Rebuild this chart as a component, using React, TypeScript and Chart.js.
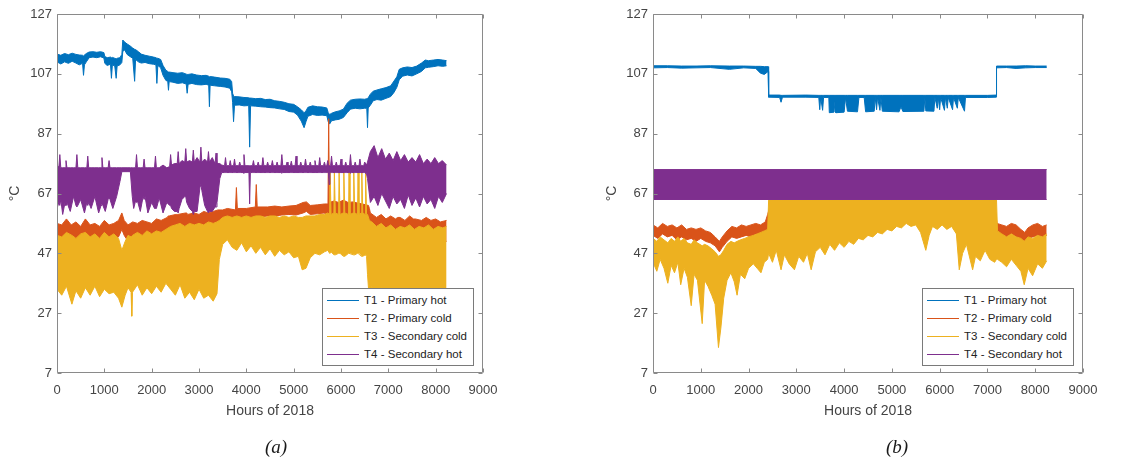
import React, { useEffect, useRef } from "react";
import { Chart, registerables } from "chart.js";

Chart.register(...registerables);

// ---------- axes ----------
const X_MIN = 0;
const X_MAX = 9000;
const X_STEP = 1000;
const Y_MIN = 7;
const Y_MAX = 127;
const Y_STEP = 20;
const X_TITLE = "Hours of 2018";
const Y_TITLE = "°C";
const CAPTIONS = ["(a)", "(b)"];

const SERIES_LABELS = ["T1 - Primary hot", "T2 - Primary cold", "T3 - Secondary cold", "T4 - Secondary hot"];
const SERIES_COLORS = ["#0072BD", "#D95319", "#EDB120", "#7E2F8E"];

// ---------- panel (a): rows are [hour, low envelope, high envelope] in °C ----------
const A_T1 = [
  [0, 111, 113.6], [80, 110.3, 113.2], [160, 111, 113.8], [240, 110.5, 113.4], [320, 111.2, 113.9],
  [400, 110.6, 113.5], [470, 110, 113.3], [540, 110.5, 113.2], [560, 106.5, 113], [580, 110, 113.3],
  [620, 111, 113.8], [680, 112.4, 114.3], [760, 112.6, 114.4], [840, 112.4, 114.2], [920, 112.7, 114.4],
  [990, 112.3, 114.1], [1010, 110.5, 112.8], [1060, 109.8, 112.4], [1130, 110.2, 112.6], [1150, 105.5, 112.4],
  [1170, 110, 112.5], [1220, 109.6, 112.2], [1250, 105.5, 112], [1270, 109.6, 112.2], [1330, 110, 112.4],
  [1370, 110.8, 113.5], [1390, 114.5, 118.3], [1430, 115, 117.6], [1480, 113.5, 117], [1540, 112.8, 116.4],
  [1600, 112.2, 115.6], [1640, 104.5, 115.2], [1660, 111.8, 115.1], [1720, 111, 114.4], [1780, 110.6, 113.6],
  [1860, 110.8, 113.2], [1950, 110.4, 112.9], [2040, 110.2, 112.6], [2090, 110, 112.4], [2110, 103.8, 112.2],
  [2130, 109.8, 112.2], [2190, 109, 111.8], [2240, 106.5, 109.8], [2300, 104.8, 108.2], [2340, 104.5, 107.8],
  [2355, 101.5, 107.6], [2370, 104.4, 107.6], [2450, 104.2, 107.4], [2550, 103.8, 107.2], [2650, 104, 107.4],
  [2730, 103.6, 106.9], [2750, 100.5, 106.8], [2770, 103.5, 106.8], [2850, 103.8, 107], [2950, 103.4, 106.6],
  [3050, 103.3, 106.4], [3150, 103.5, 106.5], [3205, 103.2, 106.2], [3220, 96, 106], [3235, 103.2, 106.1],
  [3330, 103, 105.9], [3450, 102.8, 105.6], [3550, 102.6, 105.5], [3650, 102.2, 105.2], [3690, 101, 104.4],
  [3710, 97.5, 100.5], [3730, 91, 99.6], [3750, 96.5, 99.4], [3850, 96.6, 99.3], [3950, 96.3, 99.1],
  [4050, 96.4, 99], [4070, 82.5, 98.9], [4090, 96.3, 98.9], [4200, 96.2, 98.7], [4300, 96, 98.8],
  [4400, 95.9, 98.4], [4500, 95.7, 98.5], [4600, 95.6, 98], [4700, 95.3, 97.8], [4800, 95.1, 97.5],
  [4900, 94.4, 97], [5000, 94.2, 96.8], [5080, 93.2, 96], [5160, 91.2, 95], [5220, 89, 94],
  [5260, 91, 94.6], [5300, 92.8, 95.8], [5400, 93.4, 96.3], [5500, 93.1, 96], [5600, 93.2, 95.9],
  [5700, 93, 95.6], [5730, 91, 94], [5760, 90.2, 93.4], [5800, 91.3, 93.8], [5880, 91.6, 94.3],
  [5960, 91.8, 94.6], [6050, 92.4, 95.2], [6130, 94, 97.2], [6200, 95.2, 98.2], [6300, 95.5, 98.5],
  [6400, 95.3, 98.6], [6500, 95.5, 98.5], [6545, 95.5, 98.7], [6560, 89, 98.8], [6575, 95.6, 99],
  [6620, 96.5, 100.2], [6680, 98, 101.2], [6760, 98.4, 101.6], [6850, 98.2, 102], [6950, 98.8, 102.4],
  [7050, 99.4, 103], [7120, 100.8, 104.6], [7180, 102.5, 106], [7230, 105, 108.5], [7300, 106.2, 109],
  [7400, 106.6, 109.3], [7500, 106.3, 109.1], [7600, 107, 109.6], [7700, 107.8, 110.6], [7780, 109, 111.6],
  [7850, 109.2, 111.4], [7950, 109.4, 111.6], [8050, 109.7, 111.8], [8150, 109.5, 111.6], [8230, 109.7, 111.4],
];

const A_T2 = [
  [0, 51, 57], [100, 50, 56.5], [200, 51.5, 58.5], [300, 49.5, 56.5], [400, 51, 57.5], [500, 50.5, 56],
  [600, 52, 58.5], [700, 50, 56.5], [800, 51.5, 57], [900, 50, 56], [1000, 51.5, 58], [1100, 50.5, 56.5],
  [1200, 51, 57], [1300, 52.5, 58], [1370, 55, 60.5], [1420, 53, 58], [1500, 51, 56.5], [1600, 52, 57.5],
  [1700, 51, 57], [1800, 52.5, 58], [1900, 51.5, 57.5], [2000, 52, 57], [2100, 52.5, 58.5], [2200, 53, 58],
  [2330, 52.5, 59], [2350, 46.5, 59.5], [2370, 53, 59.5], [2510, 53.5, 60], [2530, 48, 60], [2550, 54, 60],
  [2720, 54.5, 60.5], [2740, 48, 60.5], [2760, 54.5, 60], [2900, 55, 60.5], [3000, 54, 60], [3100, 55.5, 61],
  [3200, 55, 60.5], [3300, 55, 61], [3400, 56.5, 61.5], [3500, 58, 61.5], [3600, 58.5, 62], [3770, 58.5, 61.5],
  [3790, 58.5, 69], [3810, 58.5, 62], [4000, 59, 62], [4190, 59, 62.5], [4210, 59.5, 70], [4230, 59, 62.5],
  [4450, 59.5, 62.5], [4600, 59.5, 62.8], [4750, 59.8, 62.5], [4900, 60, 62.8], [5050, 59.8, 63], [5200, 60.5, 64],
  [5270, 61, 64.2], [5350, 60, 63], [5500, 60.2, 63.2], [5650, 60.5, 63.5], [5725, 59, 63.5], [5740, 58, 92],
  [5755, 59, 64], [5850, 59.5, 64.5], [5950, 59, 64], [6050, 58.5, 64.8], [6150, 59, 64], [6250, 58.5, 64.2],
  [6350, 59, 63.8], [6450, 58.5, 63.5], [6580, 58, 63], [6600, 47, 62], [6620, 53, 60.5], [6750, 51, 59],
  [6850, 52.5, 60], [6950, 50.5, 58.5], [7050, 52, 59.5], [7150, 50, 58.5], [7200, 47, 59], [7250, 51.5, 59],
  [7350, 50, 58], [7450, 52, 59.5], [7530, 51, 58.5], [7550, 47, 58.5], [7570, 51, 58.5], [7700, 49.5, 58],
  [7800, 51.5, 59], [7900, 50, 58], [8000, 51, 58.5], [8100, 49.5, 57.5], [8230, 51, 58],
];

const A_T3 = [
  [0, 35, 53], [100, 33, 52.5], [200, 36, 54], [315, 30, 53], [400, 34.5, 52], [500, 32, 53.5],
  [600, 35.5, 54], [700, 33, 52.5], [800, 36, 53.5], [900, 32.5, 52], [1000, 35, 54], [1100, 33.5, 52.5],
  [1200, 34, 53.5], [1300, 32, 52], [1370, 29, 48], [1440, 33, 51], [1500, 35.5, 53], [1565, 34, 52.5],
  [1580, 26, 52.5], [1595, 34, 53], [1700, 36.5, 54], [1800, 33, 53], [1900, 35.5, 54.5], [2000, 33.5, 53.5],
  [2100, 36, 54.5], [2200, 34, 54], [2300, 37, 55], [2400, 35, 56], [2500, 33, 56.5], [2600, 36.5, 57],
  [2700, 32, 56], [2800, 34, 57], [2900, 31.5, 56.5], [3000, 35, 57], [3100, 32, 56.5], [3200, 33, 57.5],
  [3300, 31, 57], [3380, 33.5, 57.5], [3430, 45, 58], [3500, 50, 59], [3600, 51.5, 59.5], [3700, 49, 59],
  [3800, 48, 59.5], [3900, 50.5, 59], [4000, 47.5, 59.5], [4100, 49.5, 59], [4200, 47, 59.5], [4300, 49, 59.5],
  [4400, 46.5, 59], [4500, 48.5, 59.5], [4600, 46, 59.5], [4700, 48, 59], [4800, 46.5, 59.5], [4900, 47.5, 59],
  [5000, 45.5, 59.5], [5100, 46, 59], [5180, 41.5, 59], [5260, 42, 59.5], [5350, 45.5, 59.5], [5450, 47, 59.5],
  [5550, 46.5, 60], [5650, 47.5, 60], [5720, 48, 60.5], [5760, 47, 60], [5770, 47, 74.5], [5790, 47.5, 60],
  [5850, 46.5, 60.5], [5860, 46.5, 74.5], [5880, 46.5, 60.5], [5950, 47, 60], [5960, 47, 74.5], [5980, 47, 60],
  [6050, 46, 60.5], [6060, 46, 74.5], [6080, 46, 60.5], [6160, 47, 60], [6170, 47, 74.5], [6190, 47, 60],
  [6260, 46.5, 60.5], [6270, 46.5, 74.5], [6290, 46.5, 60.5], [6350, 47, 60], [6360, 47, 74.5], [6380, 47, 60],
  [6430, 46, 60.5], [6440, 46, 74.5], [6460, 46, 60.5], [6510, 46.5, 60], [6520, 46.5, 74.5], [6540, 46, 60],
  [6560, 40, 60], [6600, 31, 58], [6650, 36, 57.5], [6750, 33, 56], [6850, 35.5, 57], [6950, 32, 55.5],
  [7050, 34, 56.5], [7150, 31.5, 55], [7250, 34.5, 56], [7350, 32, 55.5], [7450, 35, 56.5], [7550, 31.5, 55],
  [7650, 34, 56], [7750, 32.5, 55.5], [7850, 35, 56.5], [7950, 32, 55], [8050, 34, 56], [8150, 33, 55.5],
  [8230, 35, 56],
];

const A_T4 = [
  [0, 62, 76], [40, 64, 76], [60, 63, 80], [80, 65, 75.6], [120, 60, 75.6], [170, 64, 75.6], [190, 63, 78],
  [210, 64, 75.6], [280, 61, 75.6], [350, 66, 75.6], [400, 63, 75.6], [420, 62.5, 80], [440, 63, 75.6],
  [500, 65, 75.6], [580, 60.5, 75.6], [630, 64, 75.6], [650, 63, 79.5], [670, 64, 75.6], [720, 62, 75.6],
  [800, 66, 75.6], [880, 60.5, 75.6], [930, 63, 75.6], [950, 63.5, 79], [970, 63, 75.6], [1020, 61, 75.6],
  [1080, 65, 75.6], [1100, 65.5, 78], [1120, 65, 75.6], [1180, 62, 75.6], [1260, 66, 75.6], [1330, 71, 75.6],
  [1370, 74.3, 75.6], [1480, 74.3, 75.6], [1550, 74.3, 75.6], [1590, 66, 75.6], [1620, 62, 75.6], [1660, 64.5, 75.6],
  [1680, 64, 80], [1700, 64.5, 75.6], [1760, 61, 75.6], [1820, 66, 75.6], [1840, 65, 78.5], [1860, 66, 75.6],
  [1920, 60.5, 75.6], [2000, 64, 75.6], [2060, 62, 75.6], [2080, 62, 79.5], [2100, 62, 75.6], [2160, 65.5, 75.6],
  [2240, 60.5, 76.5], [2320, 64, 75.6], [2380, 63, 76], [2400, 63, 80], [2420, 62, 76.5], [2480, 61, 77],
  [2540, 61, 77], [2560, 60.5, 81], [2580, 62, 77], [2640, 65, 78], [2700, 66, 77.5], [2720, 66, 82],
  [2740, 64, 77.5], [2800, 62, 78], [2860, 61, 77.5], [2880, 60, 81.5], [2900, 61, 77.5], [2960, 61, 79],
  [3020, 69, 77.5], [3040, 70, 82.5], [3060, 68, 77.5], [3120, 63, 78.5], [3180, 61, 77.5], [3200, 60.5, 81],
  [3220, 61, 77.5], [3280, 61, 79], [3340, 62.5, 77], [3360, 62.5, 80.5], [3380, 64, 77], [3440, 72, 77],
  [3480, 74, 76.5], [3540, 74, 76.3], [3560, 74, 79], [3580, 74, 76.3], [3640, 74, 76.3], [3660, 74, 78],
  [3680, 74, 76.3], [3730, 74, 76.3], [3750, 74, 78.5], [3770, 74, 76.3], [3840, 74, 76.3], [3860, 74, 77.5],
  [3880, 74, 76.3], [3930, 74, 76.3], [3950, 73.8, 80], [3970, 74, 76.3], [4055, 74, 76.3], [4070, 63.5, 76.3],
  [4085, 74, 76.3], [4130, 74, 76.3], [4150, 74, 78], [4170, 74, 76.3], [4230, 74, 76.3], [4250, 74, 77.5],
  [4270, 74, 76.3], [4330, 74, 76.3], [4350, 74, 79], [4370, 74, 76.3], [4430, 74, 76.3], [4450, 74, 77.5],
  [4470, 74, 76.3], [4530, 74, 76.3], [4550, 74, 78], [4570, 74, 76.3], [4630, 74, 76.3], [4650, 74, 77.5],
  [4670, 74, 76.3], [4730, 74, 76.3], [4750, 73.8, 80], [4770, 74, 76.3], [4840, 74, 76.3], [4860, 74, 77.5],
  [4880, 74, 76.3], [4930, 74, 76.3], [4950, 74, 77.8], [4970, 74, 76.3], [5030, 74, 76.3], [5050, 74, 79.5],
  [5070, 74, 76.3], [5130, 74, 76.3], [5150, 74, 77.5], [5170, 74, 76.3], [5230, 74, 76.3], [5250, 74, 78.5],
  [5270, 74, 76.3], [5330, 74, 76.3], [5350, 74, 77.5], [5370, 74, 76.3], [5430, 74, 76.3], [5450, 74, 78],
  [5470, 74, 76.3], [5530, 74, 76.3], [5550, 74, 79], [5570, 74, 76.3], [5630, 74, 76.3], [5650, 74, 77.5],
  [5670, 74, 76.3], [5700, 74, 76.3], [5720, 74, 78], [5735, 74, 76.3], [5750, 70, 76.3], [5765, 74, 76.3],
  [5780, 74, 76.3], [5800, 74, 79.5], [5820, 74, 76.3], [5880, 74, 76.3], [5900, 74, 77.5], [5920, 74, 76.3],
  [5980, 74, 76.3], [6000, 74, 78.5], [6020, 74, 76.3], [6080, 74, 76.3], [6100, 74, 77.5], [6120, 74, 76.3],
  [6180, 74, 76.3], [6200, 73.8, 80], [6220, 74, 76.3], [6280, 74, 76.3], [6300, 74, 77.5], [6320, 74, 76.3],
  [6380, 74, 76.3], [6400, 74, 78.5], [6420, 74, 76.3], [6480, 74, 76.3], [6500, 74, 77.5], [6540, 73.5, 76.5],
  [6560, 72, 77.5], [6620, 64, 81], [6700, 66, 83], [6780, 63, 79], [6860, 67, 82], [6940, 64.5, 78.5],
  [7020, 62, 80.5], [7100, 66, 78], [7180, 63.5, 81], [7260, 65, 78], [7340, 62, 80], [7420, 66.5, 77.5],
  [7500, 63, 79], [7580, 65.5, 77.5], [7660, 62.5, 80], [7740, 66, 77], [7820, 63.5, 78.5], [7900, 65, 77],
  [7980, 62, 79], [8060, 66, 77], [8140, 64, 78], [8230, 67, 76.5],
];

// ---------- panel (b) ----------
const B_T1 = [
  [0, 109, 109.7], [300, 109.1, 109.7], [600, 108.9, 109.6], [900, 109, 109.6], [1200, 109.1, 109.7],
  [1600, 108.5, 109.6], [1900, 109, 109.6], [2150, 108.8, 109.5], [2250, 107.2, 109.5], [2330, 106.8, 109.4],
  [2410, 107.8, 109.4], [2420, 99.2, 99.9], [2650, 99.1, 99.9], [2680, 97.5, 99.8], [2710, 99.2, 99.8],
  [3200, 99.2, 99.9], [3470, 99.1, 99.8], [3490, 95, 99.8], [3510, 99.1, 99.8], [3550, 94.8, 99.8],
  [3570, 99.1, 99.8], [3680, 99.1, 99.8], [3690, 94, 99.8], [3790, 94.2, 99.8], [3810, 98, 99.8],
  [3830, 94, 99.8], [4000, 94.2, 99.8], [4030, 99, 99.8], [4070, 94.5, 99.8], [4280, 94.3, 99.8],
  [4310, 99.1, 99.8], [4420, 99.1, 99.8], [4450, 94.3, 99.8], [4630, 94.5, 99.8], [4650, 99.1, 99.8],
  [4680, 95, 99.8], [4700, 99.1, 99.8], [4750, 94.8, 99.8], [4770, 99.1, 99.8], [4800, 94.5, 99.8],
  [5150, 94.3, 99.8], [5190, 96, 99.8], [5230, 94.4, 99.8], [5670, 94.5, 99.8], [5690, 99.1, 99.8],
  [5710, 94.6, 99.8], [5880, 94.5, 99.8], [5900, 99.1, 99.8], [5950, 95.5, 99.8], [5970, 99.1, 99.8],
  [6000, 95, 99.8], [6020, 99.1, 99.8], [6100, 94.8, 99.8], [6120, 99.1, 99.8], [6160, 95.5, 99.8],
  [6180, 99.1, 99.8], [6270, 95, 99.8], [6290, 99.1, 99.8], [6370, 95.5, 99.8], [6390, 99.1, 99.8],
  [6520, 94.5, 99.8], [6540, 99.1, 99.8], [7000, 99.1, 99.8], [7180, 99.2, 99.9], [7190, 109, 109.6],
  [7400, 109.1, 109.6], [7600, 108.8, 109.6], [7800, 109, 109.7], [8000, 109.1, 109.6], [8240, 109.1, 109.6],
];

const B_T2 = [
  [0, 53, 56.5], [100, 52, 55.5], [200, 53.5, 57], [300, 52.5, 56], [400, 53, 56.5], [500, 51.5, 55.5],
  [600, 52.5, 56.5], [700, 51.5, 55], [800, 52, 55.5], [900, 51, 55], [1000, 52, 55.5], [1100, 51, 54.5],
  [1200, 50.5, 54], [1300, 49.5, 52.5], [1390, 47.5, 51], [1450, 49, 52.5], [1550, 51, 54.5], [1650, 52.5, 56],
  [1750, 52, 55.5], [1850, 52.5, 56.5], [1950, 53, 56], [2050, 52.5, 56.5], [2150, 53.5, 57], [2250, 53, 56.5],
  [2350, 54, 57.5], [2400, 55, 60], [2450, 59, 63], [7150, 59, 63], [7200, 53.5, 57], [7300, 53, 56.5],
  [7400, 52.5, 56], [7500, 53.5, 57], [7600, 52.5, 56.5], [7700, 51.5, 55], [7780, 51, 54], [7850, 52, 55.5],
  [7950, 52.5, 56.5], [8050, 53, 57], [8150, 52.5, 56], [8240, 53, 56.5],
];

const B_T3 = [
  [0, 44, 52], [80, 41, 51], [150, 45, 52.5], [230, 42, 51.5], [310, 37, 50.5], [380, 43, 52],
  [450, 40.5, 51], [520, 44, 52.5], [580, 36.5, 51], [650, 42, 52], [720, 39, 50.5], [800, 29.5, 50],
  [860, 40, 51.5], [930, 38, 50.5], [1030, 23.5, 49.5], [1080, 38, 50], [1150, 36, 49.5], [1230, 33, 48.5],
  [1300, 30, 47.5], [1370, 15.5, 46], [1420, 22, 46.5], [1480, 32, 48], [1550, 38, 50], [1630, 40.5, 51],
  [1700, 37.5, 50.5], [1760, 33, 51], [1830, 40, 51.5], [1920, 38.5, 52], [2000, 42, 52.5], [2100, 43.5, 53],
  [2180, 42, 53.5], [2260, 40.5, 54], [2330, 44, 54.5], [2400, 45, 55], [2420, 47, 64.8], [2500, 44, 64.8],
  [2580, 48, 64.8], [2680, 41.5, 64.8], [2750, 46.5, 64.8], [2850, 43.5, 64.8], [2960, 41.5, 64.8], [3050, 46, 64.8],
  [3150, 44, 64.8], [3230, 47, 64.8], [3310, 41.5, 64.8], [3400, 47.5, 64.8], [3500, 49, 64.8], [3600, 46.5, 64.8],
  [3700, 50, 64.8], [3800, 48, 64.8], [3900, 50.5, 64.8], [4000, 49, 64.8], [4100, 51, 64.8], [4200, 50, 64.8],
  [4300, 52, 64.8], [4400, 51.5, 64.8], [4500, 53, 64.8], [4600, 52.5, 64.8], [4700, 54, 64.8], [4800, 53.5, 64.8],
  [4900, 55, 64.8], [5000, 54.5, 64.8], [5100, 56, 64.8], [5200, 55.5, 64.8], [5300, 57, 64.8], [5400, 56, 64.8],
  [5500, 56.5, 64.8], [5600, 54, 64.8], [5710, 48, 64.8], [5780, 53, 64.8], [5850, 56, 64.8], [5950, 55, 64.8],
  [6050, 56.5, 64.8], [6150, 55, 64.8], [6250, 56, 64.8], [6350, 53.5, 64.8], [6410, 41.5, 64.8], [6480, 47, 64.8],
  [6560, 50, 64.8], [6690, 41.5, 64.8], [6750, 46, 64.8], [6850, 44.5, 64.8], [6950, 48, 64.8], [7050, 45, 64.8],
  [7150, 44, 64.8], [7190, 45, 64.8], [7210, 45, 54.5], [7300, 44, 53.5], [7400, 42.5, 52.5], [7500, 45, 53.5],
  [7600, 43, 52.5], [7700, 41, 52], [7770, 36.5, 51], [7850, 42, 52.5], [7945, 39.5, 52], [8050, 43.5, 53],
  [8150, 42, 52.5], [8240, 44.5, 53.5],
];

const B_T4 = [
  [0, 65, 75], [8240, 65, 75],
];

const PANEL_A = [A_T1, A_T2, A_T3, A_T4];
const PANEL_B = [B_T1, B_T2, B_T3, B_T4];

// ---------- style ----------
const FONT = "'Liberation Sans', Arial, Helvetica, sans-serif";
const TEXT_COLOR = "#444444";
const FRAME_COLOR = "#8a8a8a";
const TICK_LEN = 4;

const framePlugin = {
  id: "matlabFrame",
  afterDraw(chart: any) {
    const { ctx, chartArea: a, scales } = chart;
    const xs = scales.x;
    const ys = scales.y;
    const L = Math.round(a.left) + 0.5;
    const R = Math.round(a.right) - 0.5;
    const T = Math.round(a.top) + 0.5;
    const B = Math.round(a.bottom) - 0.5;
    ctx.save();
    ctx.strokeStyle = FRAME_COLOR;
    ctx.lineWidth = 1;
    ctx.beginPath();
    ctx.rect(L, T, R - L, B - T);
    for (const t of xs.ticks) {
      const px = Math.round(xs.getPixelForValue(t.value)) + 0.5;
      ctx.moveTo(px, B);
      ctx.lineTo(px, B - TICK_LEN);
      ctx.moveTo(px, T);
      ctx.lineTo(px, T + TICK_LEN);
    }
    for (const t of ys.ticks) {
      const py = Math.round(ys.getPixelForValue(t.value)) + 0.5;
      ctx.moveTo(L, py);
      ctx.lineTo(L + TICK_LEN, py);
      ctx.moveTo(R, py);
      ctx.lineTo(R - TICK_LEN, py);
    }
    ctx.stroke();
    ctx.restore();
  },
};

type PanelProps = {
  series: number[][][];
  left: number;
  width: number;
  rightPad: number;
  yTitlePad: number;
};

function Panel({ series, left, width, rightPad, yTitlePad }: PanelProps) {
  const ref = useRef<HTMLCanvasElement | null>(null);
  useEffect(() => {
    if (!ref.current) return;
    const datasets: any[] = [];
    // push T4 first so it is drawn on top, T1 last (bottom)
    for (let i = series.length - 1; i >= 0; i--) {
      const rows = series[i];
      const c = SERIES_COLORS[i];
      datasets.push({
        label: SERIES_LABELS[i],
        data: rows.map((r) => ({ x: r[0], y: r[2] })),
        borderColor: c,
        backgroundColor: c,
        borderWidth: 1,
        pointRadius: 0,
        tension: 0,
        fill: "+1",
      });
      datasets.push({
        label: SERIES_LABELS[i] + " (low)",
        data: rows.map((r) => ({ x: r[0], y: r[1] })),
        borderColor: c,
        backgroundColor: c,
        borderWidth: 1,
        pointRadius: 0,
        tension: 0,
        fill: false,
      });
    }
    const chart = new Chart(ref.current, {
      type: "line",
      data: { datasets },
      options: {
        animation: false,
        responsive: false,
        maintainAspectRatio: false,
        devicePixelRatio: 1,
        layout: { padding: { top: 14, right: rightPad, left: 0, bottom: 0 } },
        plugins: {
          legend: { display: false },
          tooltip: { enabled: false },
        },
        scales: {
          x: {
            type: "linear",
            min: X_MIN,
            max: X_MAX,
            grid: { display: false, drawTicks: false },
            border: { display: false },
            ticks: {
              stepSize: X_STEP,
              autoSkip: false,
              maxRotation: 0,
              padding: 10,
              color: TEXT_COLOR,
              font: { family: FONT, size: 13 },
              callback: (v: any) => String(v),
            },
            title: {
              display: true,
              text: X_TITLE,
              color: TEXT_COLOR,
              font: { family: FONT, size: 14 },
              padding: { top: 0, bottom: 41 },
            },
            afterFit: (s: any) => {
              s.height = 88;
            },
          },
          y: {
            type: "linear",
            min: Y_MIN,
            max: Y_MAX,
            grid: { display: false, drawTicks: false },
            border: { display: false },
            ticks: {
              stepSize: Y_STEP,
              padding: 5,
              color: TEXT_COLOR,
              font: { family: FONT, size: 13 },
              callback: (v: any) => String(v),
            },
            title: {
              display: true,
              text: Y_TITLE,
              color: TEXT_COLOR,
              font: { family: FONT, size: 14 },
              padding: { top: yTitlePad, bottom: 0 },
            },
            afterFit: (s: any) => {
              s.width = 57;
            },
          },
        },
      } as any,
      plugins: [framePlugin],
    });
    return () => chart.destroy();
  }, [series, rightPad, yTitlePad]);

  return (
    <canvas
      ref={ref}
      width={width}
      height={461}
      style={{ position: "absolute", left, top: 0, width, height: 461 }}
    />
  );
}

function Legend({ rightEdge, top }: { rightEdge: number; top: number }) {
  return (
    <div
      style={{
        position: "absolute",
        right: 1131 - rightEdge,
        top,
        background: "#ffffff",
        border: "1px solid #7a7a7a",
        padding: "2px 6px 2px 4px",
        fontFamily: FONT,
        fontSize: 11.5,
        color: "#222222",
        whiteSpace: "nowrap",
      }}
    >
      {SERIES_LABELS.map((lab, i) => (
        <div key={lab} style={{ position: "relative", height: 18, paddingLeft: 37, lineHeight: "18px" }}>
          <div
            style={{
              position: "absolute",
              left: 0,
              top: 9,
              width: 32,
              height: 1,
              background: SERIES_COLORS[i],
            }}
          />
          <span>{lab}</span>
        </div>
      ))}
    </div>
  );
}

function Caption({ text, cx }: { text: string; cx: number }) {
  return (
    <div
      style={{
        position: "absolute",
        left: cx - 30,
        width: 60,
        textAlign: "center",
        top: 436,
        fontFamily: "'Liberation Serif', 'Times New Roman', serif",
        fontStyle: "italic",
        fontSize: 19,
        color: "#1a1a1a",
        lineHeight: "22px",
      }}
    >
      {text}
    </div>
  );
}

export default function App() {
  return (
    <div
      style={{
        position: "absolute",
        left: 0,
        top: 0,
        width: 1131,
        height: 461,
        background: "#ffffff",
        overflow: "hidden",
      }}
    >
      <Panel series={PANEL_A} left={0} width={565} rightPad={82} yTitlePad={7} />
      <Panel series={PANEL_B} left={596} width={535} rightPad={48} yTitlePad={8} />
      <Legend rightEdge={474} top={288} />
      <Legend rightEdge={1074} top={288} />
      <Caption text={CAPTIONS[0]} cx={276} />
      <Caption text={CAPTIONS[1]} cx={897} />
    </div>
  );
}
